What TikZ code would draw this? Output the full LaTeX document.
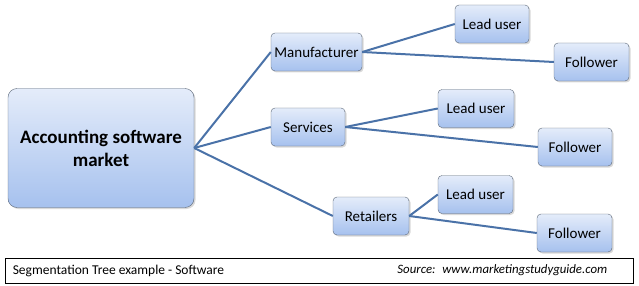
\documentclass[tikz,border=0pt]{standalone}
\usepackage{fontspec}
\setmainfont{Carlito}
\usepackage{xcolor}
\usetikzlibrary{shadows}
\definecolor{linkblue}{HTML}{4A72A8}
\definecolor{boxtop}{HTML}{E4ECFA}
\definecolor{boxbot}{HTML}{A6C1EE}
\definecolor{boxline}{HTML}{5C6878}

\begin{document}
\begin{tikzpicture}[x=1pt,y=-1pt,
 box/.style={draw=boxline,rounded corners=4pt,top color=boxtop,bottom color=boxbot,
  drop shadow={opacity=0.3,shadow xshift=1.5pt,shadow yshift=-1.5pt},
  inner sep=0pt,font=\fontsize{15}{18}\selectfont},
 root/.style={box,rounded corners=9pt,minimum width=186pt,minimum height=119pt,
  align=center,font=\fontsize{19}{23}\selectfont\bfseries},
 seg/.style={box,minimum height=38pt},
 link/.style={linkblue,line width=2pt}]
\useasboundingbox (0,0) rectangle (639,286);
\node[root] (mkt) at (101,148) {Accounting software\\market};
\node[seg,minimum width=91pt] (man) at (316.5,52) {Manufacturer};
\node[seg,minimum width=74pt] (ser) at (308,127) {Services};
\node[seg,minimum width=76pt] (ret) at (371,216) {Retailers};
\node[seg,minimum width=74pt] (manl) at (492,24) {Lead user};
\node[seg,minimum width=75pt] (manf) at (591.5,62) {Follower};
\node[seg,minimum width=76pt] (serl) at (476,108.5) {Lead user};
\node[seg,minimum width=74pt] (serf) at (575,147) {Follower};
\node[seg,minimum width=75pt] (retl) at (475.5,194.5) {Lead user};
\node[seg,minimum width=75pt] (retf) at (574.5,233) {Follower};
\foreach \x in {man,ser,ret}
 \draw[link] (mkt.east)--(\x.west);
\foreach \x/\y in {man/manl,man/manf,ser/serl,ser/serf,ret/retl,ret/retf}
 \draw[link] (\x.east)--(\y.west);
\node[draw,line width=0.8pt,minimum width=628pt,minimum height=25pt] (foot) at (319,270.5) {};
\node[anchor=west,inner sep=0pt,font=\fontsize{13.5}{16}\selectfont] (ftl) at ([xshift=8pt]foot.west) {Segmentation Tree example - Software};
\node[anchor=east,inner sep=0pt,font=\fontsize{12.8}{15}\selectfont\itshape] (ftr) at ([xshift=-26pt]foot.east) {Source:~ www.marketingstudyguide.com};
\end{tikzpicture}
\end{document}
